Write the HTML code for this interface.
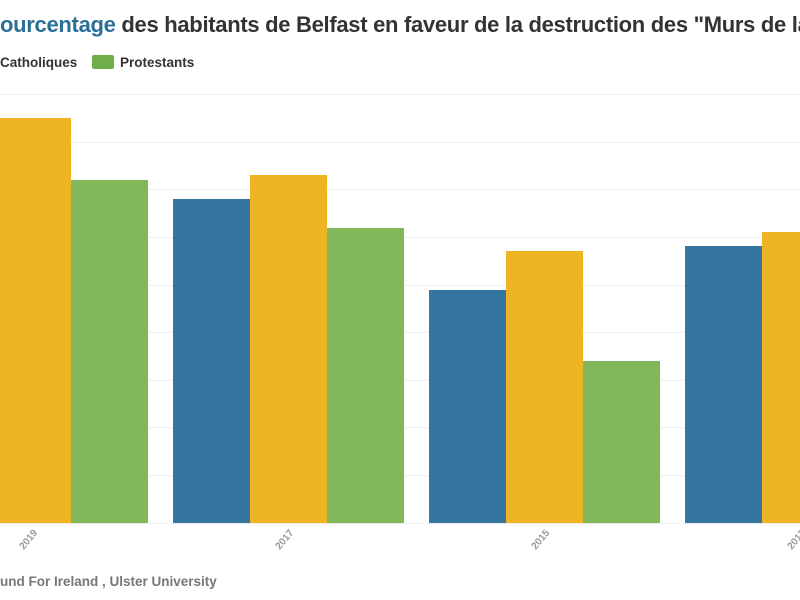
<!DOCTYPE html>
<html><head><meta charset="utf-8"><style>
body{margin:0;width:800px;height:600px;overflow:hidden;background:#fff;font-family:"Liberation Sans",sans-serif;}
</style></head><body>
<svg width="800" height="600" xmlns="http://www.w3.org/2000/svg" style="position:absolute;left:0;top:0">
<g stroke="#eeeeee" stroke-width="1">
<line x1="0" x2="800" y1="94.5" y2="94.5"/><line x1="0" x2="800" y1="142.5" y2="142.5"/>
<line x1="0" x2="800" y1="189.5" y2="189.5"/><line x1="0" x2="800" y1="237.5" y2="237.5"/>
<line x1="0" x2="800" y1="285.5" y2="285.5"/><line x1="0" x2="800" y1="332.5" y2="332.5"/>
<line x1="0" x2="800" y1="380.5" y2="380.5"/><line x1="0" x2="800" y1="427.5" y2="427.5"/>
<line x1="0" x2="800" y1="475.5" y2="475.5"/><line x1="0" x2="800" y1="523.5" y2="523.5"/>
</g>
<g>
<rect x="-6" y="118" width="77" height="405" fill="#eeb422"/>
<rect x="71" y="180" width="77" height="343" fill="#82b85a"/>
<rect x="173" y="199" width="77" height="324" fill="#34769f"/>
<rect x="250" y="175" width="77" height="348" fill="#eeb422"/>
<rect x="327" y="228" width="77" height="295" fill="#82b85a"/>
<rect x="429" y="290" width="77" height="233" fill="#34769f"/>
<rect x="506" y="251" width="77" height="272" fill="#eeb422"/>
<rect x="583" y="361" width="77" height="162" fill="#82b85a"/>
<rect x="685" y="246" width="77" height="277" fill="#34769f"/>
<rect x="762" y="232" width="77" height="291" fill="#eeb422"/>
</g>
<g font-size="10" fill="#999" font-weight="bold">
<text transform="translate(38,533) rotate(-50)" text-anchor="end">2019</text>
<text transform="translate(294,533) rotate(-50)" text-anchor="end">2017</text>
<text transform="translate(550,533) rotate(-50)" text-anchor="end">2015</text>
<text transform="translate(806,533) rotate(-50)" text-anchor="end">2013</text>
</g>
<text x="0" y="32" font-size="22" font-weight="bold" fill="#333" letter-spacing="-0.3"><tspan fill="#2b6f98">ourcentage</tspan> des habitants de Belfast en faveur de la destruction des "Murs de la Paix"</text>
<text x="0" y="67" font-size="13.5" font-weight="bold" fill="#333">Catholiques</text>
<rect x="92" y="55" width="22" height="14" rx="2" fill="#6fae4a"/>
<text x="120" y="67" font-size="13.5" font-weight="bold" fill="#333">Protestants</text>
<text x="0" y="586" font-size="13.5" font-weight="bold" fill="#777">und For Ireland , Ulster University</text>
</svg>
</body></html>
